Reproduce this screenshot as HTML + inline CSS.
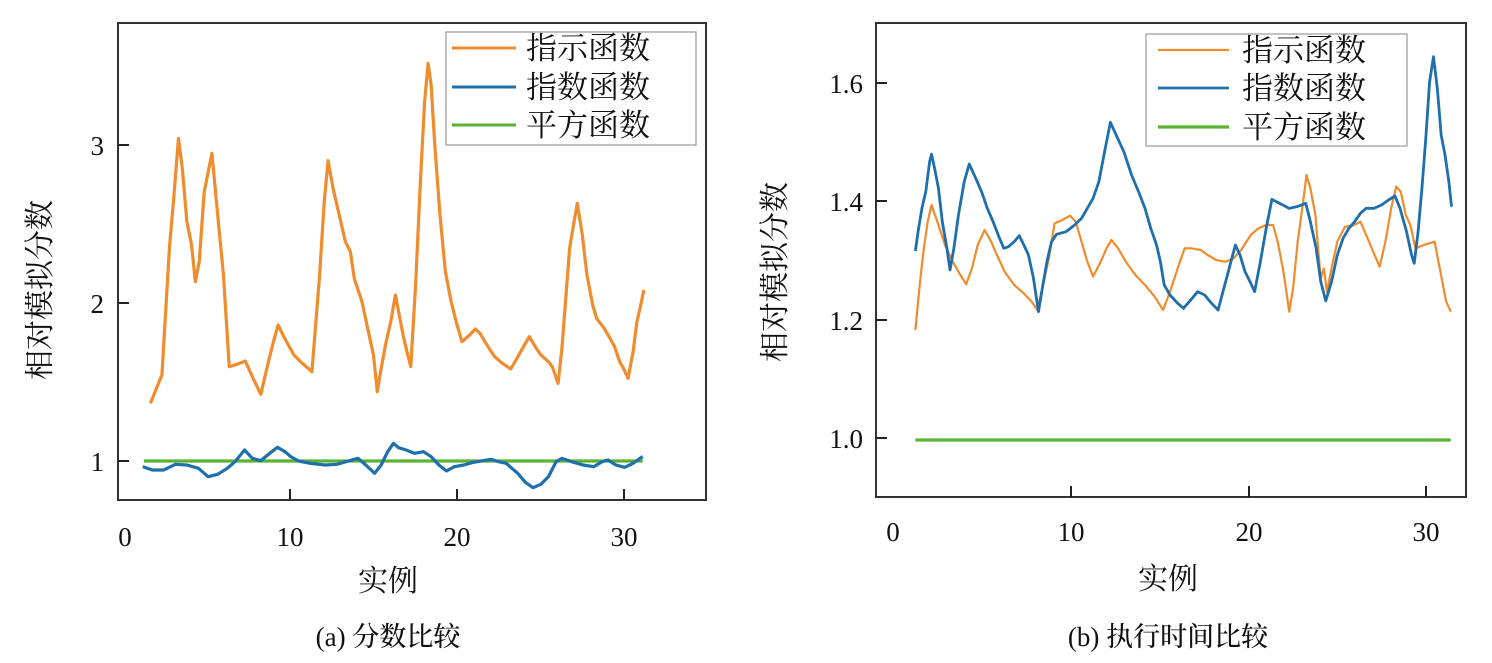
<!DOCTYPE html>
<html><head><meta charset="utf-8"><style>
html,body{margin:0;padding:0;background:#fff;}
svg{display:block}
text{font-family:"Liberation Serif","Noto Serif CJK SC",serif;fill:#111}
</style></head><body>
<svg width="1492" height="663" viewBox="0 0 1492 663" xmlns="http://www.w3.org/2000/svg">
<!-- LEFT CHART -->
<rect x="118" y="23" width="588" height="477" fill="none" stroke="#333" stroke-width="2"/>
<g stroke="#222" stroke-width="2">
<line x1="118" y1="145" x2="129" y2="145"/><line x1="118" y1="303" x2="129" y2="303"/><line x1="118" y1="461" x2="129" y2="461"/>
<line x1="290" y1="500" x2="290" y2="489"/><line x1="457" y1="500" x2="457" y2="489"/><line x1="624" y1="500" x2="624" y2="489"/>
</g>
<g font-size="27" text-anchor="end"><text x="104" y="155">3</text><text x="104" y="313">2</text><text x="104" y="471">1</text></g>
<g font-size="27" text-anchor="middle"><text x="125" y="546">0</text><text x="290" y="546">10</text><text x="457" y="546">20</text><text x="624" y="546">30</text></g>
<text x="388" y="591" font-size="30" text-anchor="middle">实例</text>
<text transform="translate(50,290) rotate(-90)" font-size="30" text-anchor="middle">相对模拟分数</text>
<text x="388" y="646" font-size="27" font-weight="500" text-anchor="middle">(a) 分数比较</text>
<g transform="translate(110,15) scale(0.38462,0.33333)" fill="none" stroke-linejoin="round">
<polyline stroke="#5ab432" stroke-width="3.2" vector-effect="non-scaling-stroke" points="88,1338 1385,1338"/>
<polyline stroke="#1f6fad" stroke-width="3.2" vector-effect="non-scaling-stroke" points="85,1355 110,1365 140,1365 170,1348 200,1350 230,1360 255,1385 280,1378 305,1360 325,1340 350,1305 370,1330 392,1337 412,1318 435,1297 455,1310 470,1325 490,1338 520,1345 560,1350 590,1348 620,1338 645,1330 665,1350 688,1375 705,1350 722,1310 737,1285 750,1298 770,1305 792,1315 815,1310 835,1325 855,1350 875,1368 895,1355 920,1350 945,1342 970,1337 990,1333 1010,1340 1030,1345 1060,1375 1080,1402 1100,1418 1120,1408 1140,1385 1160,1340 1175,1330 1200,1340 1230,1350 1258,1355 1280,1340 1295,1335 1315,1350 1338,1357 1360,1345 1378,1330 1385,1325"/>
<polyline stroke="#ef8c2d" stroke-width="3.2" vector-effect="non-scaling-stroke" points="105,1165 135,1080 155,690 165,560 178,370 188,460 200,620 212,690 222,800 232,740 245,530 265,415 280,600 295,780 310,1055 330,1048 352,1038 372,1090 392,1138 412,1040 425,980 437,930 452,965 478,1020 500,1045 525,1070 545,780 557,560 567,437 580,520 598,610 612,680 625,710 635,790 655,860 670,940 685,1020 695,1130 705,1060 718,980 730,920 742,840 752,900 762,960 772,1010 782,1055 795,800 807,500 818,260 827,145 835,210 845,400 858,600 872,770 887,860 900,920 915,980 935,960 950,942 962,955 980,990 1000,1025 1020,1045 1042,1062 1058,1030 1075,995 1090,965 1103,990 1120,1020 1140,1040 1150,1055 1165,1105 1175,1000 1185,850 1195,700 1205,630 1215,565 1228,660 1240,780 1255,870 1265,910 1285,940 1300,970 1312,995 1325,1040 1335,1060 1347,1090 1360,1010 1370,920 1380,870 1388,825"/>
</g>
<rect x="446" y="32" width="250" height="113" fill="#fff" stroke="#999" stroke-width="1.2"/>
<g stroke-width="3"><line x1="452" y1="48" x2="516" y2="48" stroke="#ef8c2d"/><line x1="452" y1="87" x2="516" y2="87" stroke="#1f6fad"/><line x1="452" y1="125" x2="516" y2="125" stroke="#5ab432"/></g>
<g font-size="31"><text x="526" y="59">指示函数</text><text x="526" y="98">指数函数</text><text x="526" y="136">平方函数</text></g>

<!-- RIGHT CHART -->
<rect x="876" y="23" width="590" height="474" fill="none" stroke="#333" stroke-width="2"/>
<g stroke="#222" stroke-width="2">
<line x1="876" y1="83" x2="887" y2="83"/><line x1="876" y1="201" x2="887" y2="201"/><line x1="876" y1="320" x2="887" y2="320"/><line x1="876" y1="438" x2="887" y2="438"/>
<line x1="1071" y1="497" x2="1071" y2="486"/><line x1="1249" y1="497" x2="1249" y2="486"/><line x1="1426" y1="497" x2="1426" y2="486"/>
</g>
<g font-size="27" text-anchor="end"><text x="863" y="93">1.6</text><text x="863" y="211">1.4</text><text x="863" y="330">1.2</text><text x="863" y="448">1.0</text></g>
<g font-size="27" text-anchor="middle"><text x="893" y="541">0</text><text x="1071" y="541">10</text><text x="1249" y="541">20</text><text x="1426" y="541">30</text></g>
<text x="1168" y="589" font-size="30" text-anchor="middle">实例</text>
<text transform="translate(785,272) rotate(-90)" font-size="30" text-anchor="middle">相对模拟分数</text>
<text x="1168" y="646" font-size="27" font-weight="500" text-anchor="middle">(b) 执行时间比较</text>
<g transform="translate(870,15) scale(0.38462,0.33333)" fill="none" stroke-linejoin="round">
<polyline stroke="#5ab432" stroke-width="3.2" vector-effect="non-scaling-stroke" points="118,1275 1510,1275"/>
<polyline stroke="#ef8c2d" stroke-width="2.2" vector-effect="non-scaling-stroke" points="118,945 125,860 132,780 140,700 150,620 160,570 175,620 195,690 215,740 235,780 250,808 265,760 280,690 298,645 315,680 330,720 350,770 375,810 400,835 420,860 435,885 450,810 465,730 480,625 500,615 520,602 535,620 550,680 565,740 580,785 600,740 615,700 628,675 645,700 665,740 690,780 715,810 740,845 762,885 780,830 800,760 818,700 835,700 860,705 878,720 900,735 925,740 945,730 965,705 990,660 1010,640 1030,630 1048,630 1060,680 1075,770 1090,890 1100,820 1112,680 1125,570 1135,480 1145,520 1158,600 1165,700 1172,790 1180,760 1188,830 1200,760 1215,680 1235,635 1255,632 1275,620 1290,660 1310,715 1325,755 1340,680 1355,580 1368,515 1380,530 1393,600 1405,630 1418,700 1440,690 1468,680 1478,740 1488,800 1498,860 1510,890"/>
<polyline stroke="#1f6fad" stroke-width="2.8" vector-effect="non-scaling-stroke" points="118,708 125,650 135,580 145,530 155,440 160,418 168,460 178,520 188,620 200,700 208,765 218,700 230,600 245,500 258,447 275,490 290,530 305,580 320,620 335,665 348,700 360,695 375,680 388,662 400,690 412,720 425,790 438,890 448,820 460,740 472,680 485,658 510,650 530,632 550,610 565,580 580,550 595,500 610,410 625,322 640,360 660,410 680,480 700,535 715,580 730,640 745,690 755,740 765,810 780,840 800,865 815,880 830,860 852,830 870,840 888,865 905,885 920,820 935,755 950,690 962,720 975,770 988,800 1000,830 1015,740 1030,640 1045,553 1065,565 1090,580 1110,575 1133,565 1145,620 1160,700 1172,800 1185,858 1200,800 1215,720 1230,670 1245,640 1260,620 1275,595 1290,580 1310,580 1330,570 1348,555 1365,543 1378,580 1395,650 1408,720 1415,745 1425,650 1435,520 1445,370 1455,200 1465,125 1475,220 1485,360 1495,420 1505,500 1512,575"/>
</g>
<rect x="1146" y="34" width="261" height="112" fill="#fff" stroke="#999" stroke-width="1.2"/>
<g><line x1="1158" y1="50" x2="1229" y2="50" stroke="#ef8c2d" stroke-width="2.2"/><line x1="1158" y1="88" x2="1229" y2="88" stroke="#1f6fad" stroke-width="2.8"/><line x1="1158" y1="127" x2="1229" y2="127" stroke="#5ab432" stroke-width="3.2"/></g>
<g font-size="31"><text x="1242" y="61">指示函数</text><text x="1242" y="99">指数函数</text><text x="1242" y="138">平方函数</text></g>
</svg>
</body></html>
